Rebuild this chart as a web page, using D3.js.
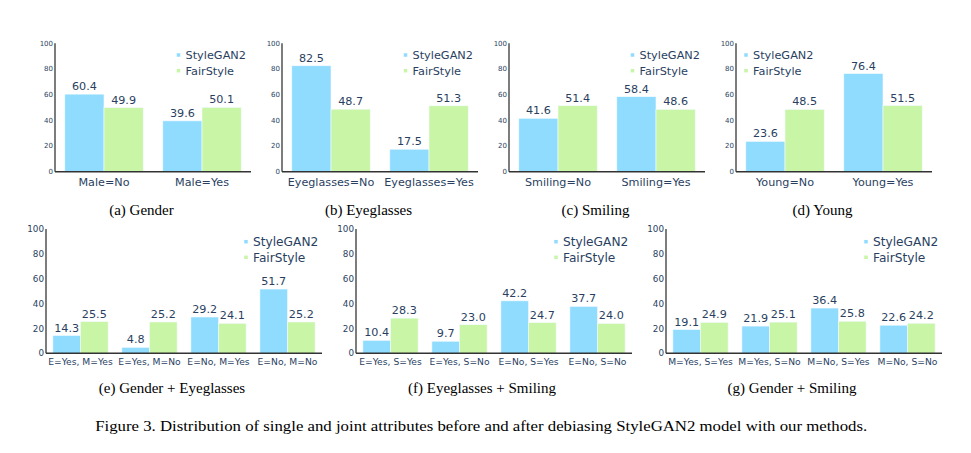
<!DOCTYPE html>
<html><head><meta charset="utf-8">
<script src="https://cdn.jsdelivr.net/npm/d3@7"></script>
<style>body{margin:0;background:#fff;}svg{display:block;}</style>
</head><body>
<svg id="c" width="971" height="453"></svg>
<script>
const seriesNames = ["StyleGAN2", "FairStyle"];
const yTicks = [0, 20, 40, 60, 80, 100];

const catsA = ["Male=No", "Male=Yes"];
const styleA = [60.4, 39.6];
const fairA = [49.9, 50.1];

const catsB = ["Eyeglasses=No", "Eyeglasses=Yes"];
const styleB = [82.5, 17.5];
const fairB = [48.7, 51.3];

const catsC = ["Smiling=No", "Smiling=Yes"];
const styleC = [41.6, 58.4];
const fairC = [51.4, 48.6];

const catsD = ["Young=No", "Young=Yes"];
const styleD = [23.6, 76.4];
const fairD = [48.5, 51.5];

const catsE = ["E=Yes, M=Yes", "E=Yes, M=No", "E=No, M=Yes", "E=No, M=No"];
const styleE = [14.3, 4.8, 29.2, 51.7];
const fairE = [25.5, 25.2, 24.1, 25.2];

const catsF = ["E=Yes, S=Yes", "E=Yes, S=No", "E=No, S=Yes", "E=No, S=No"];
const styleF = [10.4, 9.7, 42.2, 37.7];
const fairF = [28.3, 23.0, 24.7, 24.0];

const catsG = ["M=Yes, S=Yes", "M=Yes, S=No", "M=No, S=Yes", "M=No, S=No"];
const styleG = [19.1, 21.9, 36.4, 22.6];
const fairG = [24.9, 25.1, 25.8, 24.2];

const subCaptions = ["(a) Gender", "(b) Eyeglasses", "(c) Smiling", "(d) Young",
  "(e) Gender + Eyeglasses", "(f) Eyeglasses + Smiling", "(g) Gender + Smiling"];
const figCaption = "Figure 3. Distribution of single and joint attributes before and after debiasing StyleGAN2 model with our methods.";

const colors = ["#8fdcff", "#c8f5a6"];
const textColor = "#2a3f5f";
const sans = "Verdana, 'DejaVu Sans', sans-serif";
const serif = "'Liberation Serif', 'Times New Roman', serif";

const svg = d3.select("#c");

const panels = [
  {cats: catsA, s: styleA, f: fairA, cap: subCaptions[0]},
  {cats: catsB, s: styleB, f: fairB, cap: subCaptions[1]},
  {cats: catsC, s: styleC, f: fairC, cap: subCaptions[2]},
  {cats: catsD, s: styleD, f: fairD, cap: subCaptions[3], legendLeft: true},
  {cats: catsE, s: styleE, f: fairE, cap: subCaptions[4]},
  {cats: catsF, s: styleF, f: fairF, cap: subCaptions[5]},
  {cats: catsG, s: styleG, f: fairG, cap: subCaptions[6]}
];

const topStyle = {w: 196, y0: 43.3, y1: 171.7, tickFont: 7, catFont: 11.2, valFont: 11.2, legFont: 11.3,
  catDy: 14, legY: 55, legGap: 15.7, legX: 123.5, capDx: 86.5, capY: 215};
const botStyle = {w: 276, y0: 229, y1: 353.3, tickFont: 8.8, catFont: 9.2, valFont: 11.2, legFont: 12.2,
  catDy: 11.8, legY: 241.7, legGap: 15.6, legX: 200, capDx: 126, capY: 393.3};

function draw(p, left, st) {
  const g = svg.append("g");
  const x = d3.scaleBand().domain(p.cats).range([left, left + st.w]).paddingInner(0.2).paddingOuter(0.1);
  const xs = d3.scaleBand().domain(seriesNames).range([0, x.bandwidth()]);
  const y = d3.scaleLinear().domain([0, 100]).range([st.y1, st.y0]);

  g.selectAll("text.yt").data(yTicks).join("text")
    .attr("x", left - 2).attr("y", d => y(d)).attr("dy", "0.35em")
    .attr("text-anchor", "end").attr("font-family", sans).attr("font-size", st.tickFont)
    .attr("fill", textColor).text(d => d);

  const rows = p.cats.map((c, i) => ({c, vals: [p.s[i], p.f[i]]}));
  const grp = g.selectAll("g.cat").data(rows).join("g").attr("transform", d => `translate(${x(d.c)},0)`);
  grp.selectAll("rect").data(d => d.vals.map((v, j) => ({v, k: seriesNames[j], j}))).join("rect")
    .attr("x", d => xs(d.k)).attr("width", xs.bandwidth())
    .attr("y", d => y(d.v)).attr("height", d => y(0) - y(d.v))
    .attr("fill", d => colors[d.j]).attr("stroke", "#f4fbff").attr("stroke-width", 0.6);
  grp.selectAll("text").data(d => d.vals.map((v, j) => ({v, k: seriesNames[j]}))).join("text")
    .attr("x", d => xs(d.k) + xs.bandwidth() / 2).attr("y", d => y(d.v) - 4)
    .attr("text-anchor", "middle").attr("font-family", sans).attr("font-size", st.valFont)
    .attr("fill", textColor).text(d => d.v.toFixed(1));

  g.append("line").attr("x1", left).attr("x2", left).attr("y1", y(100)).attr("y2", y(0))
    .attr("stroke", "#111").attr("stroke-width", 1.1);
  g.append("line").attr("x1", left).attr("x2", left + st.w).attr("y1", y(0)).attr("y2", y(0))
    .attr("stroke", "#333").attr("stroke-width", 1.5);

  g.selectAll("text.cat").data(p.cats).join("text")
    .attr("x", d => x(d) + x.bandwidth() / 2).attr("y", st.y1 + st.catDy)
    .attr("text-anchor", "middle").attr("font-family", sans).attr("font-size", st.catFont)
    .attr("fill", textColor).text(d => d);

  const lx = p.legendLeft ? left + 10 : left + st.legX;
  seriesNames.forEach((n, i) => {
    const ly = st.legY + i * st.legGap;
    g.append("rect").attr("x", lx - 1.75).attr("y", ly - 1.75).attr("width", 3.5).attr("height", 3.5)
      .attr("fill", colors[i]);
    g.append("text").attr("x", lx + 7).attr("y", ly).attr("dy", "0.36em")
      .attr("font-family", sans).attr("font-size", st.legFont).attr("fill", textColor).text(n);
  });

  g.append("text").attr("x", left + st.capDx).attr("y", st.capY).attr("text-anchor", "middle")
    .attr("font-family", serif).attr("font-size", 15).attr("fill", "#000").text(p.cap);
}

[55, 282, 509, 736].forEach((l, i) => draw(panels[i], l, topStyle));
[46, 356, 666].forEach((l, i) => draw(panels[4 + i], l, botStyle));

svg.append("text").attr("x", 481.2).attr("y", 430.7).attr("text-anchor", "middle")
  .attr("font-family", serif).attr("font-size", 15.5).attr("fill", "#000")
  .attr("textLength", 772).attr("lengthAdjust", "spacingAndGlyphs").text(figCaption);
</script>
</body></html>
